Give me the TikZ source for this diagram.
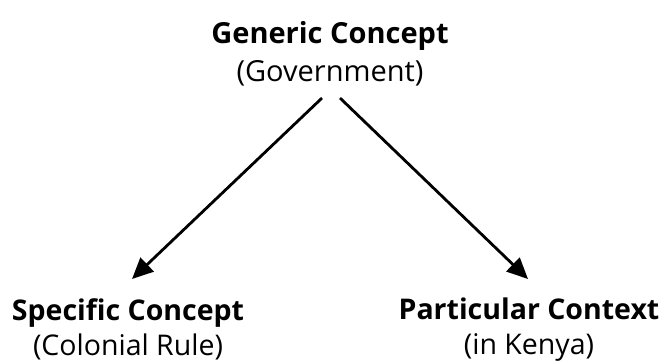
\documentclass[tikz,border=0pt]{standalone}
\usepackage{fontspec}
\setmainfont{Open Sans}
\usetikzlibrary{arrows.meta,positioning}

\tikzset{
  concept/.style={align=center, inner sep=0pt, font=\fontsize{29}{38}\selectfont},
  lowconcept/.style={align=center, inner sep=0pt, font=\fontsize{28.5}{35}\selectfont},
  link/.style={-{Triangle[length=21pt,width=19pt]}, line width=2.8pt}
}

\begin{document}
\begin{tikzpicture}[x=1pt,y=1pt]

            \def\W{666};
            \def\H{363};
            \useasboundingbox (0,0) rectangle (\W,\H);

            % nodes
            \node[concept, anchor=north] (generic) at (330, \H - 21)
              {\textbf{Generic Concept}\\(Government)};
            \node[lowconcept, anchor=north] (specific) at (128, \H - 298)
              {\textbf{Specific Concept}\\(Colonial Rule)};
            \node[lowconcept, anchor=north] (particular) at (529, \H - 298)
              {\textbf{Particular Context}\\(in Kenya)};

            % arrows
            \draw[link] ([xshift=-8pt, yshift=-12pt]generic.south) -- ([xshift=4pt, yshift=19pt]specific.north);
            \draw[link] ([xshift=10pt, yshift=-12pt]generic.south) -- ([xshift=-1pt, yshift=19pt]particular.north);
        \end{tikzpicture}
\end{document}
